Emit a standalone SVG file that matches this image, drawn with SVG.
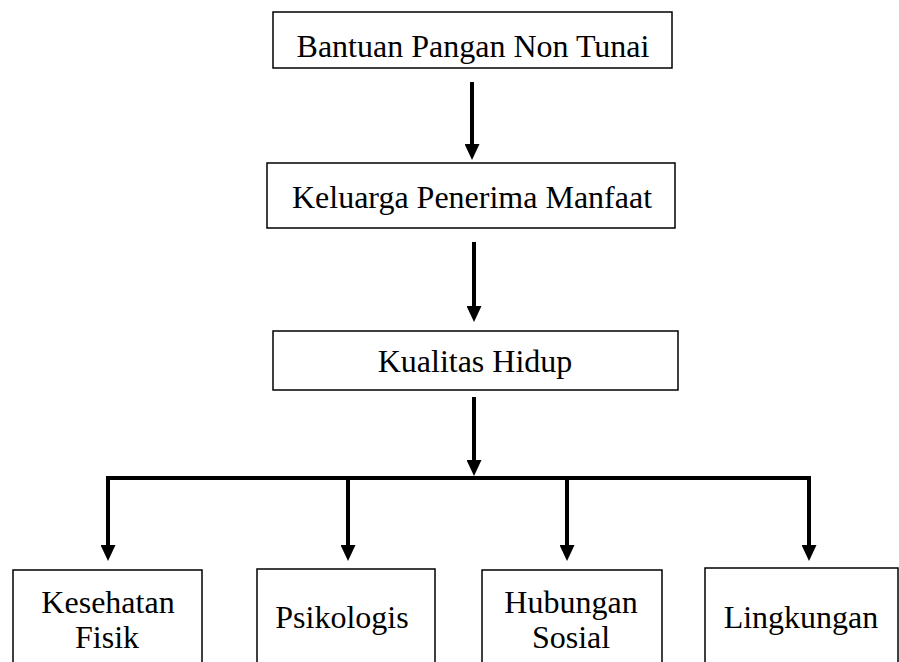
<svg xmlns="http://www.w3.org/2000/svg" width="899" height="662" viewBox="0 0 899 662">
<style>
.box{fill:#fff;stroke:#000;stroke-width:1.5}
.lbl{font-family:"Liberation Serif","Times New Roman",serif;font-size:32px;fill:#000;text-anchor:middle}
.con{fill:none;stroke:#000;stroke-width:4;stroke-linejoin:miter}
</style>
<defs>
<marker id="ah" markerUnits="userSpaceOnUse" markerWidth="16" markerHeight="15" refX="2" refY="7.5" orient="auto">
<path d="M0,0 L16,7.5 L0,15 z" fill="#000"/>
</marker>
</defs>
<rect width="899" height="662" fill="#fff"/>
<g id="n1"><rect class="box" x="273" y="12" width="399" height="56"/><text class="lbl" x="473" y="57">Bantuan Pangan Non Tunai</text></g>
<g id="n2"><rect class="box" x="267" y="163" width="408" height="65"/><text class="lbl" x="472" y="208">Keluarga Penerima Manfaat</text></g>
<g id="n3"><rect class="box" x="273" y="331" width="405" height="59"/><text class="lbl" x="475" y="372">Kualitas Hidup</text></g>
<g id="n4"><rect class="box" x="13" y="570" width="189" height="100"/><text class="lbl" x="108" y="613">Kesehatan</text><text class="lbl" x="107" y="648">Fisik</text></g>
<g id="n5"><rect class="box" x="257" y="569" width="178" height="100"/><text class="lbl" x="342" y="628">Psikologis</text></g>
<g id="n6"><rect class="box" x="482" y="570" width="180" height="100"/><text class="lbl" x="571" y="613">Hubungan</text><text class="lbl" x="571" y="648">Sosial</text></g>
<g id="n7"><rect class="box" x="705" y="568" width="193" height="100"/><text class="lbl" x="801" y="628">Lingkungan</text></g>
<g id="connectors">
<line class="con" x1="472" y1="82" x2="472" y2="146" marker-end="url(#ah)"/>
<line class="con" x1="474" y1="242" x2="474" y2="308" marker-end="url(#ah)"/>
<line class="con" x1="474" y1="397" x2="474" y2="462" marker-end="url(#ah)"/>
<path class="con" d="M108,547 V478 H809 V547" marker-end="url(#ah)"/>
<line class="con" x1="108" y1="520" x2="108" y2="547" marker-end="url(#ah)"/>
<line class="con" x1="348" y1="478" x2="348" y2="547" marker-end="url(#ah)"/>
<line class="con" x1="567" y1="478" x2="567" y2="547" marker-end="url(#ah)"/>
</g>
</svg>
